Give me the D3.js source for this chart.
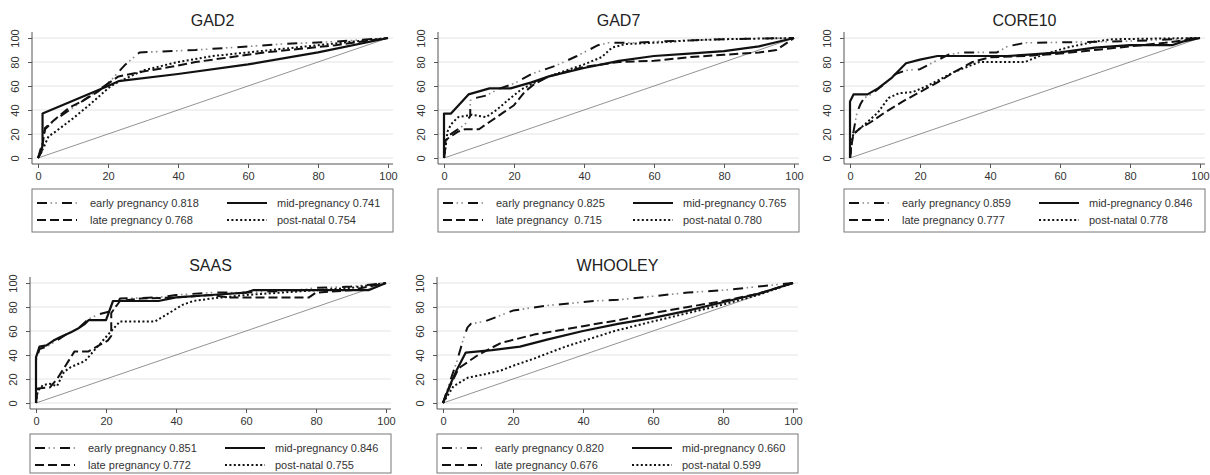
<!DOCTYPE html>
<html><head><meta charset="utf-8">
<script src="https://cdn.jsdelivr.net/npm/d3@7"></script>
<style>
body{margin:0;background:#fff}
svg{display:block}
text{font-family:"Liberation Sans",Arial,Helvetica,sans-serif}
</style>
</head><body>
<svg id="c" width="1210" height="475"></svg>
<script>
// ---------- data ----------
const panelTitles = ["GAD2", "GAD7", "CORE10", "SAAS", "WHOOLEY"];
const seriesNames = ["early pregnancy", "mid-pregnancy", "late pregnancy", "post-natal"];
const xTicks = [0, 20, 40, 60, 80, 100];
const yTicks = [0, 20, 40, 60, 80, 100];

const aucGAD2 = ["0.818", "0.741", "0.768", "0.754"];
const aucGAD7 = ["0.825", "0.765", " 0.715", "0.780"];
const aucCORE10 = ["0.859", "0.846", "0.777", "0.778"];
const aucSAAS = ["0.851", "0.846", "0.772", "0.755"];
const aucWHOOLEY = ["0.820", "0.660", "0.676", "0.599"];

// [1-specificity %, sensitivity %]
const gad2Early = [[0,0],[1,10],[2,24],[5,32],[10,42],[15,52],[20,62],[25,78],[29,88],[45,90],[55,92],[70,95],[85,97],[100,100]];
const gad2Mid = [[0,0],[0.5,3],[1,8],[1.3,10],[1.3,37],[20,60],[23,64],[40,70],[60,78],[80,88],[100,100]];
const gad2Late = [[0,0],[1,5],[2,25],[4,30],[6,35],[9,42],[13,48],[17,55],[20,62],[23,68],[30,72],[38,76],[45,80],[55,84],[65,88],[75,91],[85,94],[100,100]];
const gad2Post = [[0,0],[1.8,10],[3,18],[5,22],[10,33],[15,45],[20,58],[22,62],[30,73],[40,80],[50,85],[60,88],[70,91],[80,94],[90,97],[100,100]];

const gad7Early = [[0,0],[0.5,12],[1,18],[3,22],[6,28],[7.5,35],[7.5,48],[9,50],[12,52],[16,58],[20,62],[25,70],[32,77],[38,85],[44,94],[47,96],[55,96],[60,97],[70,98],[80,99],[100,100]];
const gad7Mid = [[0,0],[0,37],[2,37],[7,53],[13,58],[19,58],[25,63],[30,68],[40,75],[50,81],[60,85],[70,87],[80,89],[90,93],[100,100]];
const gad7Late = [[0,0],[0.5,15],[2,18],[4,22],[6,24],[10,24],[13,30],[17,38],[20,44],[23,55],[26,62],[30,68],[40,76],[50,80],[60,81],[70,84],[80,86],[90,88],[95,90],[100,100]];
const gad7Post = [[0,0],[0.5,10],[1,22],[2,28],[4,34],[8,36],[12,34],[15,40],[19,50],[22,57],[26,63],[30,68],[35,73],[40,78],[45,84],[48,92],[52,95],[60,96],[70,98],[80,99],[100,100]];

const core10Early = [[0,0],[0.5,15],[1,22],[2,38],[3,45],[4,50],[6,53],[10,62],[13,70],[16,73],[20,74],[24,80],[28,86],[32,88],[42,88],[45,93],[50,96],[75,97],[85,98],[100,100]];
const core10Mid = [[0,0],[0,47],[1,53],[5,53],[8,58],[12,67],[16,79],[20,82],[25,85],[45,85],[50,86],[60,88],[70,92],[80,94],[92,94],[95,97],[100,100]];
const core10Late = [[0,0],[0.5,12],[1,20],[3,25],[6,30],[10,38],[15,47],[20,55],[25,63],[30,72],[35,80],[40,84],[50,85],[60,87],[70,90],[80,93],[90,96],[100,100]];
const core10Post = [[0,0],[0.5,15],[1,20],[3,25],[5,30],[8,38],[11,50],[14,54],[18,55],[22,60],[26,66],[30,72],[37,80],[50,80],[55,86],[62,92],[70,97],[75,99],[100,100]];

const saasEarly = [[0,0],[0,35],[1,45],[3,47],[6,52],[9,58],[12,62],[15,70],[18,74],[22,77],[24,87],[35,88],[40,90],[50,92],[60,92],[75,94],[80,96],[90,97],[100,100]];
const saasMid = [[0,0],[0,38],[1,47],[3,48],[5,52],[7,55],[10,59],[12,62],[14,66],[15,69],[20,69],[22,85],[35,85],[40,88],[50,90],[60,92],[62,94],[95,94],[100,100]];
const saasLate = [[0,0],[0.5,12],[4,13],[6,20],[8,29],[11,43],[15,43],[18,48],[20.5,52],[21.5,56],[21.5,75],[24,85],[30,87],[40,88],[50,90],[55,88],[78,88],[80,92],[90,94],[100,100]];
const saasPost = [[0,0],[0.5,10],[2,15],[4,16],[6,14],[7,20],[8,26],[10,30],[14,35],[17,45],[20,55],[24,68],[34,68],[38,75],[42,82],[45,85],[50,87],[60,90],[70,92],[80,94],[90,96],[100,100]];

const whooleyEarly = [[0,0],[2,18],[4,35],[6,55],[7,63],[8,66],[12,68],[20,77],[29,81],[43,85],[50,86],[60,89],[70,92],[80,94],[90,97],[100,100]];
const whooleyMid = [[0,0],[2,15],[4,28],[6.5,42],[14,44],[22,47],[30,53],[40,60],[50,66],[60,71],[70,77],[80,84],[90,91],[100,100]];
const whooleyLate = [[0,0],[2,14],[4,26],[5,30],[10,40],[16.5,50],[26,57],[40,64],[50,69],[60,75],[70,80],[80,85],[90,91],[100,100]];
const whooleyPost = [[0,0],[3,14],[7,21],[12,24],[16.5,27],[20,31],[26,37],[35,47],[49,60],[60,68],[70,75],[80,82],[90,90],[100,100]];

const panelSeries = [
  [gad2Early, gad2Mid, gad2Late, gad2Post],
  [gad7Early, gad7Mid, gad7Late, gad7Post],
  [core10Early, core10Mid, core10Late, core10Post],
  [saasEarly, saasMid, saasLate, saasPost],
  [whooleyEarly, whooleyMid, whooleyLate, whooleyPost]
];
const panelAuc = [aucGAD2, aucGAD7, aucCORE10, aucSAAS, aucWHOOLEY];

// ---------- styling / layout ----------
// each series: list of stroke layers {color, width, dash}
const styles = [
  [{c:"#111", w:2, d:"10,15"}, {c:"#8a8a8a", w:1.6, d:"0,13.5,1.6,3.2,1.6,5.1"}],
  [{c:"#111", w:2.2, d:null}],
  [{c:"#111", w:2, d:"9,4"}],
  [{c:"#111", w:2, d:"2,2.4"}]
];
const layout = [{L:32,T:32},{L:438,T:32},{L:844,T:32},{L:30,T:277},{L:437,T:277}];
const PW = 361, PH = 132;

const svg = d3.select("#c");

layout.forEach((p, i) => {
  const g = svg.append("g").attr("transform", `translate(${p.L},${p.T})`);
  const x = d3.scaleLinear().domain([0, 100]).range([6, 356]);
  const y = d3.scaleLinear().domain([-5, 105]).range([PH, 0]);

  // gridlines
  g.selectAll("line.grid").data(yTicks).join("line")
    .attr("x1", 0).attr("x2", PW)
    .attr("y1", d => y(d)).attr("y2", d => y(d))
    .attr("stroke", "#e4e4e4").attr("stroke-width", 1);

  // axes
  const xa = g.append("g").attr("transform", `translate(0,${PH})`)
    .call(d3.axisBottom(x).tickValues(xTicks).tickSize(4).tickPadding(3).tickSizeOuter(0));
  const ya = g.append("g")
    .call(d3.axisLeft(y).tickValues(yTicks).tickSize(4).tickPadding(3).tickSizeOuter(0));
  [xa, ya].forEach(a => {
    a.select(".domain").attr("stroke", "#555");
    a.selectAll(".tick line").attr("stroke", "#555");
    a.selectAll(".tick text").attr("fill", "#333").style("font-size", "11px")
      .style("font-family", '"Liberation Sans",Arial,sans-serif');
  });
  xa.select(".domain").attr("d", `M0,0H${PW}`);
  ya.select(".domain").attr("d", `M0,0V${PH}`);
  xa.selectAll(".tick text").attr("dy", "0.85em");
  ya.selectAll(".tick text")
    .attr("x", null).attr("dy", null)
    .attr("text-anchor", "middle")
    .attr("transform", "translate(-13,0) rotate(-90)")
    .attr("y", 0);

  // reference diagonal
  g.append("line")
    .attr("x1", x(0)).attr("y1", y(0)).attr("x2", x(100)).attr("y2", y(100))
    .attr("stroke", "#777").attr("stroke-width", 0.8);

  // ROC curves
  const line = d3.line().x(d => x(d[0])).y(d => y(d[1]));
  panelSeries[i].forEach((s, k) => {
    styles[k].forEach(st => {
      g.append("path").datum(s).attr("d", line)
        .attr("fill", "none").attr("stroke", st.c).attr("stroke-width", st.w)
        .attr("stroke-linejoin", "round")
        .attr("stroke-dasharray", st.d);
    });
  });

  // title
  g.append("text").attr("x", PW / 2).attr("y", -6)
    .attr("text-anchor", "middle").style("font-size", "16px").attr("fill", "#222")
    .text(panelTitles[i]);

  // legend
  const lg = g.append("g").attr("transform", `translate(0,157)`);
  const lh = p.T > 100 ? 39 : 43;
  lg.append("rect").attr("x", 0).attr("y", 0).attr("width", PW).attr("height", lh)
    .attr("fill", "#fff").attr("stroke", "#777").attr("stroke-width", 1);
  [0, 1, 2, 3].forEach((k, j) => {
    const col = j % 2, row = Math.floor(j / 2);
    const sx = col === 0 ? 5 : 195;
    const tx = col === 0 ? 58 : 245;
    const cy = row === 0 ? 14 : 31;
    styles[k].forEach(st => {
      lg.append("line").attr("x1", sx).attr("x2", sx + 40).attr("y1", cy).attr("y2", cy)
        .attr("stroke", st.c).attr("stroke-width", st.w)
        .attr("stroke-dasharray", st.d);
    });
    lg.append("text").attr("x", tx).attr("y", cy + 4)
      .style("font-size", "11px").attr("fill", "#333")
      .style("white-space", "pre")
      .text(seriesNames[k] + " " + panelAuc[i][k]);
  });
});
</script>
</body></html>
